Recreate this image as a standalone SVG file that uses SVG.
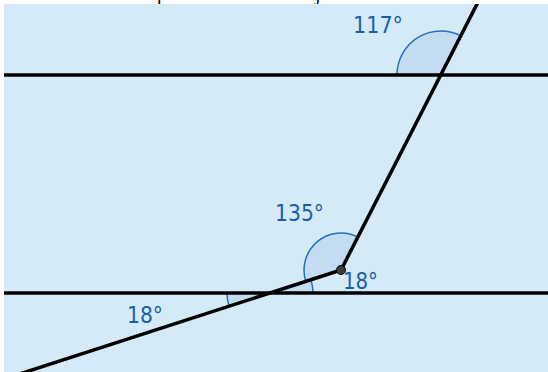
<svg xmlns="http://www.w3.org/2000/svg" width="548" height="372" viewBox="0 0 548 372">
  <style>
    .frag { font-family: "Liberation Serif", serif; font-size: 20px; fill: #000; }
    .bg { fill: #d5eaf7; }
    .sector { fill: #c3dcf1; stroke: none; }
    .arc { fill: none; stroke: #2b6cc0; stroke-width: 1.5; }
    .line { stroke: #000; stroke-width: 3.5; fill: none; stroke-linecap: butt; }
    .lbl { font-family: "DejaVu Sans", "Liberation Sans", sans-serif; font-size: 23px; fill: #1c5fa8; }
  </style>
  <defs>
    <clipPath id="clip">
      <rect x="4" y="4" width="544" height="368"/>
    </clipPath>
  </defs>
  <rect x="0" y="0" width="548" height="372" fill="#ffffff"/>
  <text class="frag" x="157" y="0">p</text>
  <text class="frag" x="315" y="0">j</text>
  <rect class="bg" x="4" y="4" width="544" height="368"/>
  <g clip-path="url(#clip)">
    <g id="angles">
      <g id="angle117">
        <path class="sector" d="M441,75 L397,75 A44,44 0 0 1 461,35.8 Z"/>
        <path class="arc" d="M397,75 A44,44 0 0 1 461,35.8"/>
      </g>
      <g id="angle135">
        <path class="sector" d="M341,270 L357.8,237.1 A37,37 0 0 0 305.8,281.4 Z"/>
        <path class="arc" d="M357.8,237.1 A37,37 0 0 0 305.8,281.4"/>
      </g>
      <g id="angle18right">
        <path class="sector" d="M270,293 L313,293 A43,43 0 0 0 310.9,279.8 Z"/>
        <path class="arc" d="M313,293 A43,43 0 0 0 310.9,279.8"/>
      </g>
      <g id="angle18left">
        <path class="sector" d="M270,293 L227,293 A43,43 0 0 0 229.1,306.2 Z"/>
        <path class="arc" d="M227,293 A43,43 0 0 0 229.1,306.2"/>
      </g>
    </g>
    <g id="connectors">
      <line class="line" x1="0" y1="75" x2="548" y2="75"/>
      <line class="line" x1="0" y1="293" x2="548" y2="293"/>
      <line class="line" x1="341" y1="270" x2="484.2" y2="-10"/>
      <line class="line" x1="341" y1="270" x2="4" y2="379"/>
    </g>
    <g id="vertex">
      <circle cx="341" cy="270" r="4.5" fill="#3c3c3c" stroke="#000" stroke-width="1"/>
    </g>
    <g id="labels">
      <text class="lbl" x="353" y="33" textLength="50" lengthAdjust="spacingAndGlyphs">117°</text>
      <text class="lbl" x="275" y="221" textLength="49" lengthAdjust="spacingAndGlyphs">135°</text>
      <text class="lbl" x="343" y="289" textLength="35" lengthAdjust="spacingAndGlyphs">18°</text>
      <text class="lbl" x="127" y="323" textLength="36" lengthAdjust="spacingAndGlyphs">18°</text>
    </g>
  </g>
</svg>
